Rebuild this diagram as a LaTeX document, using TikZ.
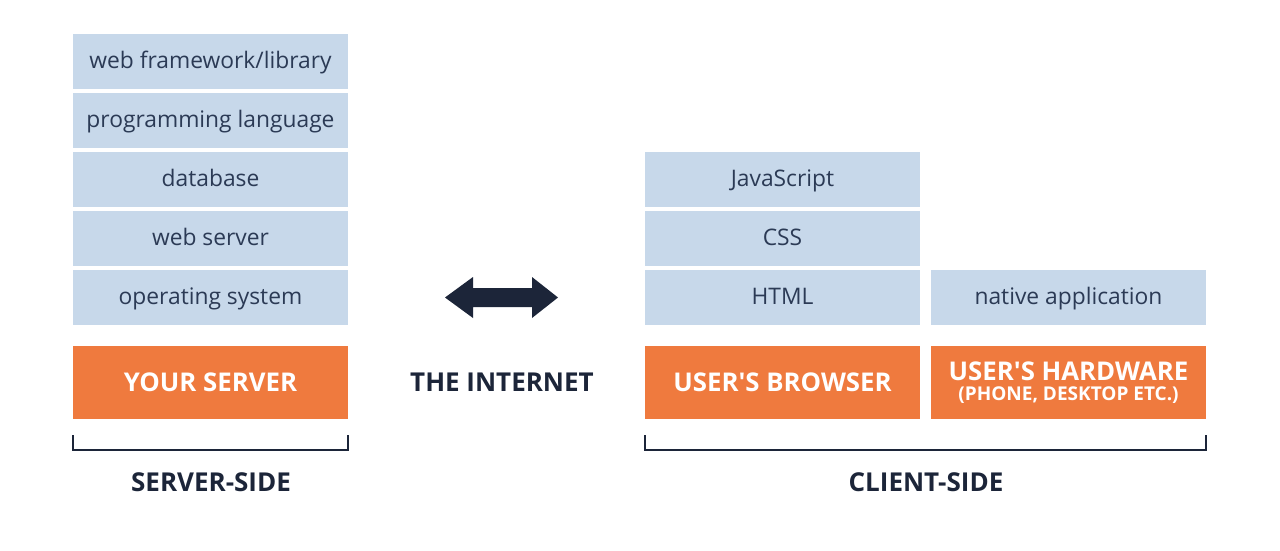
\documentclass[tikz,border=0pt]{standalone}
\usepackage{fontspec}
\setmainfont{Open Sans}
\definecolor{lightbox}{HTML}{C7D8EA}
\definecolor{orangebox}{HTML}{EF7A3E}
\definecolor{navy}{HTML}{1C2539}
\definecolor{boxtext}{HTML}{2B3A55}
\tikzset{
  layer/.style={fill=lightbox, minimum width=275pt, minimum height=55pt, inner sep=0pt, text height=18pt, text depth=4pt, text=boxtext, font=\fontsize{22.8}{26}\selectfont},
  basebox/.style={fill=orangebox, minimum width=275pt, minimum height=73pt, inner sep=0pt, text=white, font=\bfseries\fontsize{25.8}{28}\selectfont, align=center},
  heading/.style={text=navy, font=\bfseries\fontsize{26}{30}\selectfont, inner sep=0pt},
  bracket/.style={draw=navy, line width=2pt}
}
\begin{document}
\begin{tikzpicture}[x=1pt,y=-1pt]
\useasboundingbox[fill=white] (0,0) rectangle (1280,550);
% server side
\node[layer] (fw) at (210.5,61.5) {web framework/library};
\node[layer] (pl) at (210.5,120.5) {programming language};
\node[layer] (db) at (210.5,179.5) {database};
\node[layer] (ws) at (210.5,238.5) {web server};
\node[layer] (os) at (210.5,297.5) {operating system};
\node[basebox] (srv) at (210.5,382.5) {YOUR SERVER};
% client side
\node[layer] (js) at (782.5,179.5) {JavaScript};
\node[layer] (css) at (782.5,238.5) {CSS};
\node[layer] (html) at (782.5,297.5) {HTML};
\node[layer] (nat) at (1068.5,297.5) {native application};
\node[basebox] (brw) at (782.5,382.5) {USER\textquotesingle S BROWSER};
\node[basebox] (hw) at (1068.5,382.5) {USER\textquotesingle S HARDWARE\\[-8pt]{\fontsize{19}{21}\selectfont (PHONE, DESKTOP ETC.)}};
% internet
\node[heading] (net) at (502,382.5) {THE INTERNET};
\fill[navy] (445,297.5) -- (473,277) -- (473,288) -- (532,288) -- (532,277) -- (558,297.5) -- (532,318) -- (532,307) -- (473,307) -- (473,318) -- cycle;
% brackets
\coordinate (sl) at ([yshift=-16pt]srv.south west);
\coordinate (sr) at ([yshift=-16pt]srv.south east);
\draw[bracket] ([yshift=-31pt]srv.south west) -- ([yshift=-31pt]srv.south east);
\draw[bracket] (sl) -- ([yshift=-32pt]srv.south west);
\draw[bracket] (sr) -- ([yshift=-32pt]srv.south east);
\coordinate (cl) at ([yshift=-16pt]brw.south west);
\coordinate (cr) at ([yshift=-16pt]hw.south east);
\draw[bracket] ([yshift=-31pt]brw.south west) -- ([yshift=-31pt]hw.south east);
\draw[bracket] (cl) -- ([yshift=-32pt]brw.south west);
\draw[bracket] (cr) -- ([yshift=-32pt]hw.south east);
\node[heading] (ss) at (211,482) {SERVER-SIDE};
\node[heading] (cs) at (926,482) {CLIENT-SIDE};
\end{tikzpicture}
\end{document}
